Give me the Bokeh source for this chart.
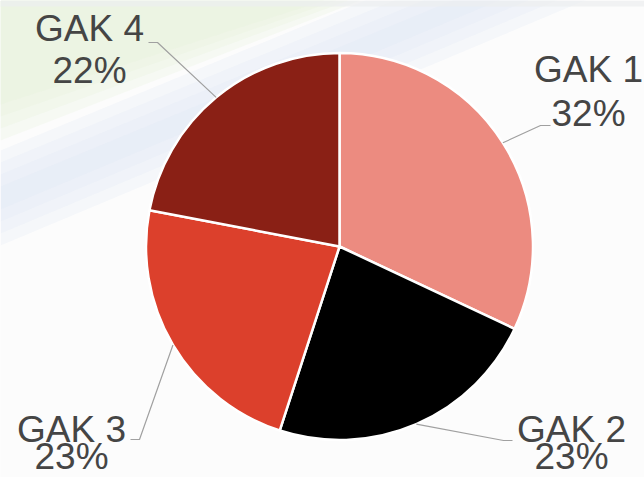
import numpy as np
from bokeh.plotting import figure
from bokeh.models import Range1d, ColumnDataSource
from bokeh.embed import file_html
from bokeh.resources import INLINE
from bokeh.core.properties import value

# ---- data ----
categories = ["GAK 1", "GAK 2", "GAK 3", "GAK 4"]
shares = [32, 23, 23, 22]
colors = ["#EC8B80", "#000000", "#DC402C", "#8A2015"]

# ---- layout (page pixel coordinates) ----
PAGE_W, PAGE_H = 644, 477
CX, CY, R = 339, 246, 193.5
label_elbow = [(540, 125), (503, 440), (139, 439), (157, 42)]
label_end = [(550, 125), (512, 440), (130, 439), (148, 42)]
label_cx = [588, 571, 71, 89]
label_line1_y = [82, 442, 442, 41]
label_line2_y = [126, 469, 469, 83]
TEXT_SHIFT = 13  # rendering offset correction for the alphabetic baseline


def Y(py):
    return PAGE_H - py


p = figure(width=PAGE_W, height=PAGE_H, x_range=Range1d(0, PAGE_W), y_range=Range1d(0, PAGE_H),
           output_backend="svg", toolbar_location=None, min_border=0,
           x_axis_type=None, y_axis_type=None)
p.grid.visible = False
p.outline_line_color = None
p.background_fill_color = "#fcfcfc"
p.border_fill_color = "#fcfcfc"

# faint blurred background bands (decoration), layered for soft edges
for k in range(4):
    d = 12 * k
    p.patch([0, 0, 360 - d, 0], [Y(0), Y(140 - d), Y(0), Y(0)],
            fill_color="#e4f0d4", fill_alpha=0.22, line_color=None)
    p.patch([0, 0, 644, 644], [Y(150 + d), Y(245 - d), Y(-25 - d), Y(-115 + d)],
            fill_color="#dae4f5", fill_alpha=0.2, line_color=None)
p.quad(left=0, right=PAGE_W, bottom=Y(6), top=Y(0), fill_color="#eceef0", fill_alpha=0.7, line_color=None)

# wedges
vals = np.array(shares, dtype=float)
frac = vals / vals.sum()
cum = np.concatenate([[0], np.cumsum(frac)])
start = np.pi / 2 - 2 * np.pi * cum[:-1]
end = np.pi / 2 - 2 * np.pi * cum[1:]
src = ColumnDataSource(dict(x=[CX] * len(vals), y=[Y(CY)] * len(vals), start=start, end=end,
                            color=colors, cat=categories))
p.wedge(x="x", y="y", radius=R, start_angle="start", end_angle="end", direction="clock",
        fill_color="color", line_color="white", line_width=2.5, source=src)

# connectors
mid = (start + end) / 2
xs, ys = [], []
for i in range(len(vals)):
    ex, ey = CX + R * np.cos(mid[i]), Y(CY) + R * np.sin(mid[i])
    xs.append([ex, label_elbow[i][0], label_end[i][0]])
    ys.append([ey, Y(label_elbow[i][1]), Y(label_end[i][1])])
p.multi_line(xs, ys, line_color="#a0a0a0", line_width=1.2)

# labels
pct = [f"{round(f * 100)}%" for f in frac]
p.text(x=label_cx, y=[Y(v - TEXT_SHIFT) for v in label_line1_y], text=categories,
       text_align="center", text_baseline="alphabetic",
       text_font=value("Liberation Sans"), text_font_size="37px", text_color="#454545")
p.text(x=label_cx, y=[Y(v - TEXT_SHIFT) for v in label_line2_y], text=pct,
       text_align="center", text_baseline="alphabetic",
       text_font=value("Liberation Sans"), text_font_size="37px", text_color="#454545")

open("out.html", "w").write(file_html(p, INLINE))
